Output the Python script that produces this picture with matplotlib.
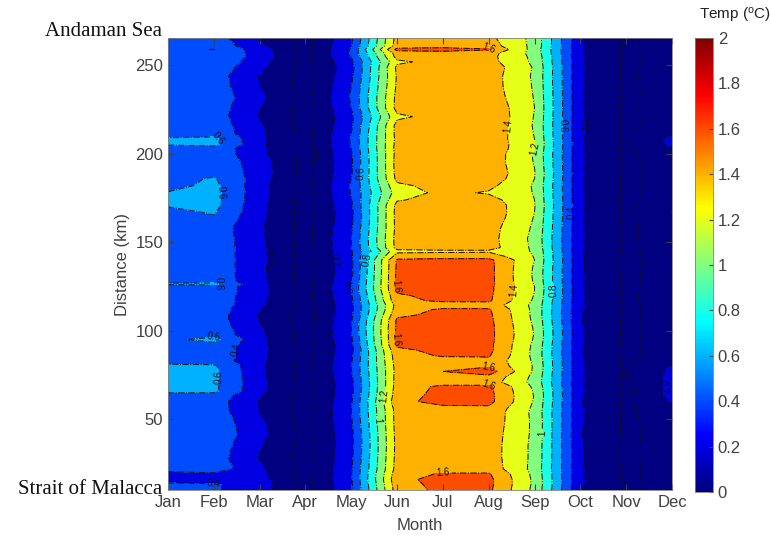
import numpy as np
import matplotlib
matplotlib.use("Agg")
import matplotlib.pyplot as plt
from matplotlib.colors import LinearSegmentedColormap, Normalize
from matplotlib.cm import ScalarMappable

plt.rcParams["font.family"] = ["Liberation Sans", "DejaVu Sans"]
plt.rcParams["mathtext.default"] = "regular"

months = ["Jan", "Feb", "Mar", "Apr", "May", "Jun",
          "Jul", "Aug", "Sep", "Oct", "Nov", "Dec"]
month_pos = [1, 2, 3, 4, 5, 6, 7, 8, 9, 10, 11, 12]

# distance along the transect (km), Strait of Malacca -> Andaman Sea
distance_km = [10, 13, 16, 19, 22, 28, 35, 42, 49, 54,
               56, 60, 63, 66, 68.5, 71, 74, 77, 80, 83,
               86, 89, 92, 95, 98, 102, 106, 109, 112, 114.5,
               117, 120, 123, 125, 126.5, 128, 132, 136, 140, 142,
               145, 147, 152, 158, 164, 167, 171, 174, 178, 182,
               186, 189, 195, 200, 203, 205.5, 208.5, 211.5, 216, 221,
               226, 232, 238, 244, 249, 252, 255, 257, 259, 261, 265.5]

# temperature anomaly (deg C), one row per distance, columns Jan..Dec
temp = [
    [0.50, 0.42, 0.30, -0.06, 0.36, 1.50, 1.65, 1.64, 1.15, 0.21, -0.02, 0.06],
    [0.45, 0.42, 0.30, -0.07, 0.37, 1.52, 1.66, 1.65, 1.16, 0.22, -0.03, 0.05],
    [0.30, 0.34, 0.28, -0.07, 0.38, 1.55, 1.66, 1.65, 1.16, 0.22, -0.03, 0.06],
    [0.32, 0.36, 0.26, -0.08, 0.39, 1.52, 1.62, 1.62, 1.15, 0.22, -0.03, 0.07],
    [0.50, 0.52, 0.24, -0.08, 0.38, 1.48, 1.52, 1.52, 1.14, 0.22, -0.03, 0.07],
    [0.53, 0.50, 0.19, -0.08, 0.36, 1.47, 1.50, 1.50, 1.15, 0.22, -0.04, 0.08],
    [0.54, 0.52, 0.22, -0.07, 0.34, 1.46, 1.50, 1.50, 1.15, 0.22, -0.04, 0.08],
    [0.55, 0.54, 0.27, -0.07, 0.35, 1.47, 1.50, 1.51, 1.16, 0.21, -0.03, 0.07],
    [0.54, 0.53, 0.24, -0.08, 0.38, 1.48, 1.51, 1.53, 1.16, 0.22, -0.03, 0.07],
    [0.55, 0.51, 0.20, -0.09, 0.40, 1.48, 1.52, 1.54, 1.15, 0.22, -0.03, 0.09],
    [0.54, 0.50, 0.19, -0.09, 0.40, 1.49, 1.55, 1.56, 1.16, 0.22, -0.03, 0.12],
    [0.53, 0.50, 0.19, -0.08, 0.38, 1.55, 1.66, 1.66, 1.18, 0.21, -0.03, 0.22],
    [0.53, 0.52, 0.22, -0.08, 0.36, 1.52, 1.66, 1.66, 1.19, 0.22, -0.03, 0.25],
    [0.64, 0.64, 0.25, -0.07, 0.35, 1.50, 1.65, 1.65, 1.18, 0.22, -0.03, 0.25],
    [0.64, 0.64, 0.26, -0.07, 0.34, 1.49, 1.64, 1.64, 1.16, 0.22, -0.03, 0.26],
    [0.64, 0.63, 0.26, -0.07, 0.35, 1.48, 1.50, 1.50, 1.14, 0.22, -0.03, 0.25],
    [0.64, 0.64, 0.25, -0.08, 0.37, 1.48, 1.52, 1.55, 1.15, 0.22, -0.03, 0.26],
    [0.64, 0.64, 0.24, -0.08, 0.39, 1.47, 1.60, 1.70, 1.17, 0.22, -0.03, 0.24],
    [0.64, 0.63, 0.24, -0.08, 0.40, 1.48, 1.52, 1.58, 1.18, 0.22, -0.03, 0.22],
    [0.53, 0.52, 0.25, -0.07, 0.38, 1.50, 1.52, 1.55, 1.17, 0.22, -0.03, 0.10],
    [0.52, 0.53, 0.26, -0.07, 0.36, 1.52, 1.62, 1.62, 1.15, 0.22, -0.04, 0.08],
    [0.53, 0.53, 0.26, -0.07, 0.34, 1.56, 1.65, 1.65, 1.15, 0.22, -0.04, 0.07],
    [0.53, 0.54, 0.27, -0.08, 0.35, 1.63, 1.66, 1.65, 1.16, 0.22, -0.03, 0.07],
    [0.56, 0.66, 0.26, -0.08, 0.37, 1.64, 1.67, 1.66, 1.18, 0.22, -0.03, 0.07],
    [0.52, 0.53, 0.25, -0.08, 0.39, 1.64, 1.67, 1.66, 1.19, 0.22, -0.03, 0.06],
    [0.53, 0.52, 0.22, -0.09, 0.40, 1.64, 1.67, 1.66, 1.18, 0.22, -0.03, 0.07],
    [0.52, 0.50, 0.19, -0.09, 0.38, 1.63, 1.66, 1.65, 1.16, 0.21, -0.03, 0.07],
    [0.53, 0.50, 0.19, -0.09, 0.36, 1.56, 1.65, 1.64, 1.15, 0.21, -0.03, 0.07],
    [0.52, 0.51, 0.21, -0.08, 0.35, 1.50, 1.63, 1.62, 1.15, 0.22, -0.03, 0.06],
    [0.53, 0.53, 0.24, -0.08, 0.35, 1.48, 1.50, 1.52, 1.15, 0.22, -0.03, 0.07],
    [0.52, 0.53, 0.25, -0.07, 0.36, 1.55, 1.63, 1.63, 1.17, 0.22, -0.03, 0.08],
    [0.53, 0.53, 0.26, -0.07, 0.38, 1.58, 1.65, 1.64, 1.19, 0.22, -0.03, 0.08],
    [0.52, 0.54, 0.27, -0.07, 0.40, 1.63, 1.66, 1.65, 1.20, 0.22, -0.03, 0.07],
    [0.53, 0.54, 0.27, -0.07, 0.40, 1.64, 1.66, 1.65, 1.20, 0.22, -0.03, 0.07],
    [0.63, 0.64, 0.26, -0.07, 0.39, 1.64, 1.67, 1.66, 1.19, 0.22, -0.03, 0.07],
    [0.53, 0.53, 0.26, -0.08, 0.38, 1.64, 1.67, 1.66, 1.18, 0.22, -0.03, 0.06],
    [0.52, 0.53, 0.25, -0.08, 0.36, 1.64, 1.67, 1.66, 1.17, 0.22, -0.03, 0.07],
    [0.53, 0.53, 0.25, -0.08, 0.35, 1.63, 1.66, 1.66, 1.18, 0.22, -0.04, 0.07],
    [0.52, 0.53, 0.25, -0.08, 0.36, 1.63, 1.65, 1.65, 1.20, 0.22, -0.04, 0.07],
    [0.53, 0.53, 0.25, -0.08, 0.37, 1.50, 1.52, 1.52, 1.19, 0.22, -0.04, 0.08],
    [0.52, 0.53, 0.25, -0.08, 0.38, 1.35, 1.36, 1.37, 1.18, 0.22, -0.03, 0.07],
    [0.53, 0.53, 0.25, -0.08, 0.39, 1.47, 1.50, 1.48, 1.16, 0.22, -0.03, 0.07],
    [0.52, 0.53, 0.24, -0.07, 0.40, 1.48, 1.50, 1.47, 1.15, 0.22, -0.03, 0.08],
    [0.53, 0.52, 0.23, -0.07, 0.38, 1.46, 1.50, 1.48, 1.17, 0.22, -0.03, 0.08],
    [0.52, 0.58, 0.25, -0.08, 0.35, 1.47, 1.50, 1.52, 1.19, 0.22, -0.03, 0.10],
    [0.54, 0.62, 0.26, -0.08, 0.35, 1.47, 1.49, 1.53, 1.20, 0.22, -0.03, 0.22],
    [0.62, 0.66, 0.26, -0.08, 0.37, 1.46, 1.50, 1.52, 1.21, 0.22, -0.03, 0.12],
    [0.64, 0.66, 0.27, -0.08, 0.39, 1.38, 1.48, 1.48, 1.20, 0.22, -0.03, 0.07],
    [0.61, 0.66, 0.28, -0.08, 0.41, 1.30, 1.45, 1.38, 1.19, 0.22, -0.03, 0.07],
    [0.54, 0.65, 0.28, -0.08, 0.42, 1.36, 1.47, 1.45, 1.18, 0.22, -0.03, 0.07],
    [0.53, 0.62, 0.30, -0.08, 0.40, 1.45, 1.50, 1.52, 1.20, 0.22, -0.03, 0.06],
    [0.52, 0.55, 0.32, -0.08, 0.38, 1.47, 1.50, 1.54, 1.21, 0.22, -0.03, 0.07],
    [0.53, 0.55, 0.30, -0.07, 0.37, 1.48, 1.50, 1.52, 1.19, 0.22, -0.03, 0.07],
    [0.52, 0.53, 0.26, -0.07, 0.38, 1.47, 1.50, 1.53, 1.18, 0.22, -0.03, 0.08],
    [0.53, 0.53, 0.25, -0.07, 0.40, 1.48, 1.49, 1.55, 1.20, 0.22, -0.03, 0.18],
    [0.62, 0.65, 0.25, -0.07, 0.41, 1.47, 1.50, 1.55, 1.21, 0.22, -0.03, 0.25],
    [0.62, 0.64, 0.25, -0.07, 0.42, 1.46, 1.49, 1.54, 1.20, 0.22, -0.03, 0.25],
    [0.53, 0.53, 0.25, -0.07, 0.40, 1.47, 1.50, 1.55, 1.19, 0.22, -0.03, 0.18],
    [0.52, 0.52, 0.23, -0.08, 0.37, 1.47, 1.50, 1.56, 1.18, 0.22, -0.03, 0.07],
    [0.53, 0.50, 0.19, -0.08, 0.35, 1.36, 1.48, 1.58, 1.19, 0.22, -0.03, 0.07],
    [0.52, 0.51, 0.21, -0.08, 0.40, 1.47, 1.50, 1.56, 1.20, 0.22, -0.03, 0.08],
    [0.53, 0.53, 0.25, -0.08, 0.42, 1.46, 1.50, 1.52, 1.19, 0.22, -0.03, 0.07],
    [0.52, 0.51, 0.21, -0.08, 0.40, 1.43, 1.50, 1.50, 1.18, 0.22, -0.03, 0.07],
    [0.53, 0.50, 0.19, -0.08, 0.36, 1.42, 1.49, 1.50, 1.17, 0.22, -0.03, 0.08],
    [0.52, 0.53, 0.25, -0.07, 0.33, 1.44, 1.50, 1.52, 1.18, 0.22, -0.03, 0.07],
    [0.53, 0.55, 0.29, -0.07, 0.36, 1.36, 1.48, 1.47, 1.16, 0.22, -0.03, 0.07],
    [0.52, 0.56, 0.33, -0.07, 0.40, 1.47, 1.50, 1.46, 1.15, 0.22, -0.03, 0.07],
    [0.53, 0.56, 0.33, -0.07, 0.43, 1.50, 1.52, 1.48, 1.13, 0.22, -0.03, 0.07],
    [0.55, 0.605, 0.30, -0.07, 0.42, 1.66, 1.68, 1.62, 1.12, 0.22, -0.03, 0.07],
    [0.53, 0.54, 0.25, -0.07, 0.39, 1.50, 1.52, 1.50, 1.14, 0.22, -0.03, 0.08],
    [0.52, 0.50, 0.19, -0.07, 0.37, 1.47, 1.50, 1.45, 1.14, 0.22, -0.03, 0.07],
]

fill_levels = [-0.5, 0, 0.2, 0.4, 0.6, 0.8, 1.0, 1.2, 1.4, 1.6, 1.8, 2.0]
line_levels = [0, 0.2, 0.4, 0.6, 0.8, 1.0, 1.2, 1.4, 1.6, 1.8]
cbar_ticks = [0, 0.2, 0.4, 0.6, 0.8, 1.0, 1.2, 1.4, 1.6, 1.8, 2.0]

# MATLAB style jet
matlab_jet = LinearSegmentedColormap.from_list("matlab_jet", [
    (0.0, (0, 0, 0.5)), (0.125, (0, 0, 1)), (0.375, (0, 1, 1)),
    (0.625, (1, 1, 0)), (0.875, (1, 0, 0)), (1.0, (0.5, 0, 0))])

# each band takes the colour of its lower level, like MATLAB contourf
fill_colors = [matlab_jet(0.0)] + [matlab_jet(v / 2.0) for v in fill_levels[1:-1]]

fig = plt.figure(figsize=(7.71, 5.5), dpi=100)
ax = fig.add_axes([168 / 771, 1 - 490 / 550, (672 - 168) / 771, (490 - 38) / 550])
cax = fig.add_axes([695 / 771, 1 - 492 / 550, 18 / 771, (492 - 38) / 550])

X, Y = np.meshgrid(month_pos, distance_km)
Z = np.array(temp)

ax.contourf(X, Y, Z, levels=fill_levels, colors=fill_colors)
cs = ax.contour(X, Y, Z, levels=line_levels, colors="#101010",
                linewidths=0.7, linestyles="-.")
ax.clabel(cs, fontsize=7, fmt="%g", inline=True, inline_spacing=2)

gray = "#404040"
ax.set_xlim(1, 12)
ax.set_ylim(10, 265.5)
ax.set_xticks(month_pos)
ax.set_xticklabels(months)
ax.set_yticks([50, 100, 150, 200, 250])
ax.tick_params(direction="in", top=True, right=True, length=4,
               colors=gray, labelsize=12, labelcolor=gray)
for sp in ax.spines.values():
    sp.set_color("#808080")
    sp.set_linewidth(0.6)
ax.set_xlabel("Month", fontsize=12, color=gray, labelpad=6)
ax.set_ylabel("Distance (km)", fontsize=12, color=gray, labelpad=4)

cbar = fig.colorbar(ScalarMappable(norm=Normalize(0, 2), cmap=matlab_jet),
                    cax=cax, ticks=cbar_ticks)
cbar.ax.set_yticklabels(["%g" % t for t in cbar_ticks])
cbar.ax.tick_params(direction="in", length=3, colors=gray, labelsize=12,
                    labelcolor=gray)
cbar.outline.set_edgecolor("#808080")
cbar.outline.set_linewidth(0.6)

fig.text(735 / 771, 1 - 15 / 550, "Temp ($^{o}$C)", ha="center", va="center",
         fontsize=11, color="#202020")
fig.text(162 / 771, 1 - 32 / 550, "Andaman Sea", ha="right", va="center",
         fontsize=15, family="Liberation Serif", color="#111111")
fig.text(162 / 771, 1 - 490 / 550, "Strait of Malacca", ha="right", va="center",
         fontsize=15, family="Liberation Serif", color="#111111")

fig.savefig("out.png", dpi=100)
plt.close(fig)
